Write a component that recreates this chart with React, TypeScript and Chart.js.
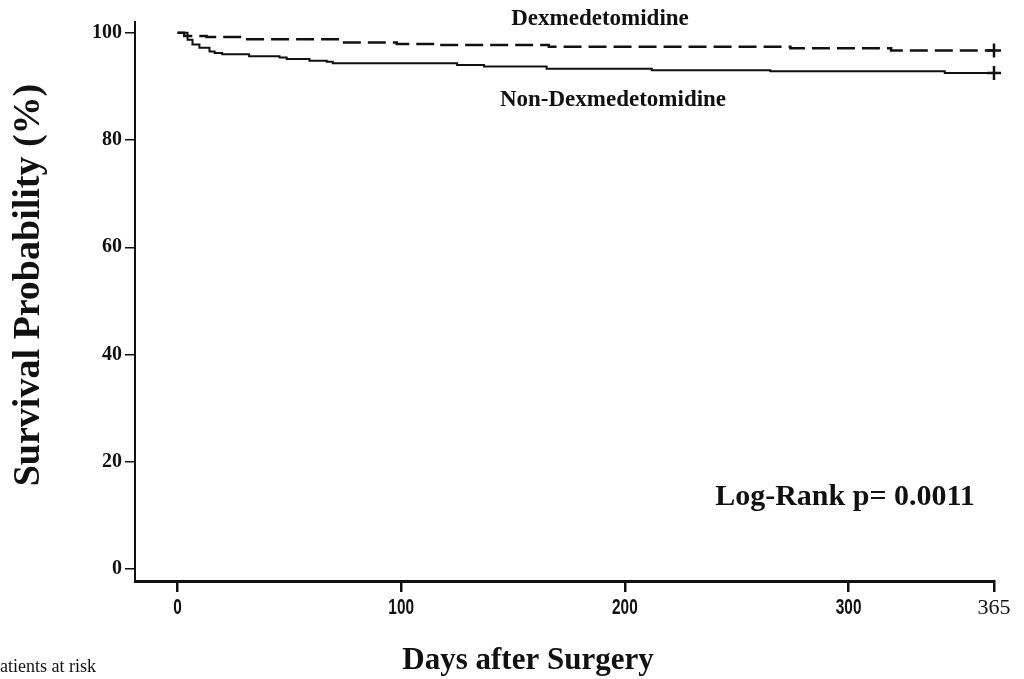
import React, { useEffect, useRef } from 'react';
import { Chart, registerables } from 'chart.js';

Chart.register(...registerables);

// Kaplan-Meier steps (day, survival %)
const dexDays = [0, 3, 13, 29, 73, 98, 115, 166, 274, 319, 365];
const dexSurv = [100, 99.4, 99.2, 98.8, 98.2, 97.9, 97.7, 97.4, 97.1, 96.7, 96.7];

const nonDays = [0, 4.5, 6.7, 9.8, 14.3, 16.6, 20, 32, 45.6, 48.8, 59, 66.7, 69.4, 125, 137, 165, 212, 265, 343, 365];
const nonSurv = [100, 98.7, 97.8, 97.2, 96.5, 96.2, 96.0, 95.6, 95.4, 95.1, 94.8, 94.6, 94.3, 94.0, 93.7, 93.3, 93.0, 92.8, 92.5, 92.5];

const xTicks = [0, 100, 200, 300, 365];
const yTicks = [0, 20, 40, 60, 80, 100];

const seriesLabels = ['Dexmedetomidine', 'Non-Dexmedetomidine'];
const yTitle = 'Survival Probability (%)';
const xTitle = 'Days after Surgery';
const statText = 'Log-Rank p= 0.0011';
const riskText = 'atients at risk';

const SERIF = '"Liberation Serif", "Times New Roman", serif';
const SANS = '"Liberation Sans", Arial, sans-serif';

const textPlugin = {
  id: 'textPlugin',
  afterDraw(chart: any) {
    const ctx = chart.ctx as CanvasRenderingContext2D;
    const xs = chart.scales.x;
    ctx.save();
    ctx.fillStyle = '#111';
    ctx.textAlign = 'center';
    ctx.textBaseline = 'middle';
    // x tick labels (condensed bold sans, last one serif)
    xTicks.forEach((v) => {
      const px = xs.getPixelForValue(v);
      ctx.save();
      ctx.translate(px, 608);
      if (v === 365) {
        ctx.font = `22px ${SERIF}`;
        ctx.fillText(String(v), 0, 0);
      } else {
        ctx.scale(0.7, 1);
        ctx.font = `bold 22px ${SANS}`;
        ctx.fillText(String(v), 0, 0);
      }
      ctx.restore();
    });
    ctx.font = `bold 23px ${SERIF}`;
    ctx.fillText(seriesLabels[0], 600, 19);
    ctx.fillText(seriesLabels[1], 613, 100);
    ctx.font = `bold 30px ${SERIF}`;
    ctx.fillText(statText, 845, 497);
    ctx.font = `bold 31px ${SERIF}`;
    ctx.fillText(xTitle, 528, 661);
    ctx.textAlign = 'left';
    ctx.font = `18px ${SERIF}`;
    ctx.fillText(riskText, 0, 667);
    ctx.save();
    ctx.translate(29, 285);
    ctx.rotate(-Math.PI / 2);
    ctx.textAlign = 'center';
    ctx.font = `bold 38px ${SERIF}`;
    ctx.fillText(yTitle, 0, 0);
    ctx.restore();
    ctx.restore();
  },
};

export default function App() {
  const ref = useRef<HTMLCanvasElement>(null);
  useEffect(() => {
    if (!ref.current) return;
    const lastIdx = (n: number) => (c: any) => (c.dataIndex === n - 1 ? 7 : 0);
    const chart = new Chart(ref.current, {
      type: 'line',
      data: {
        datasets: [
          {
            label: seriesLabels[0],
            data: dexDays.map((d, i) => ({ x: d, y: dexSurv[i] })),
            borderColor: '#111',
            borderWidth: 2.5,
            borderDash: [18, 7],
            stepped: 'before',
            pointStyle: 'cross',
            pointRadius: lastIdx(dexDays.length),
            pointBorderWidth: 2.5,
            pointBorderColor: '#111',
            fill: false,
            clip: false,
          },
          {
            label: seriesLabels[1],
            data: nonDays.map((d, i) => ({ x: d, y: nonSurv[i] })),
            borderColor: '#111',
            borderWidth: 2,
            stepped: 'before',
            pointStyle: 'cross',
            pointRadius: lastIdx(nonDays.length),
            pointBorderWidth: 2.5,
            pointBorderColor: '#111',
            fill: false,
            clip: false,
          },
        ],
      },
      options: {
        animation: false,
        responsive: false,
        layout: { padding: { top: 22, right: 30, left: 0, bottom: 0 } },
        plugins: { legend: { display: false }, tooltip: { enabled: false } },
        scales: {
          x: {
            type: 'linear',
            min: -19,
            max: 365,
            afterBuildTicks: (s: any) => {
              s.ticks = xTicks.map((v) => ({ value: v }));
            },
            afterFit: (s: any) => {
              s.height = 98;
            },
            ticks: {
              display: false,
              autoSkip: false,
            },
            grid: {
              drawOnChartArea: false,
              drawTicks: true,
              tickLength: 11,
              color: '#111',
              lineWidth: 2.5,
            },
            border: { display: true, color: '#111', width: 3 },
          },
          y: {
            type: 'linear',
            min: -2.2,
            max: 102,
            afterBuildTicks: (s: any) => {
              s.ticks = yTicks.map((v) => ({ value: v }));
            },
            afterFit: (s: any) => {
              s.width = 135;
            },
            ticks: {
              color: '#111',
              padding: 3,
              autoSkip: false,
              callback: (v: any) => String(v),
              font: { family: SERIF, size: 20, weight: 'bold' },
            },
            grid: {
              drawOnChartArea: false,
              drawTicks: true,
              tickLength: 10,
              color: '#111',
              lineWidth: 1.5,
            },
            border: { display: true, color: '#111', width: 2 },
          },
        },
      },
      plugins: [textPlugin],
    } as any);
    return () => chart.destroy();
  }, []);
  return (
    <div style={{ position: 'fixed', left: 0, top: 0, width: 1024, height: 679, background: '#fff' }}>
      <canvas ref={ref} width={1024} height={679} style={{ display: 'block' }} />
    </div>
  );
}
